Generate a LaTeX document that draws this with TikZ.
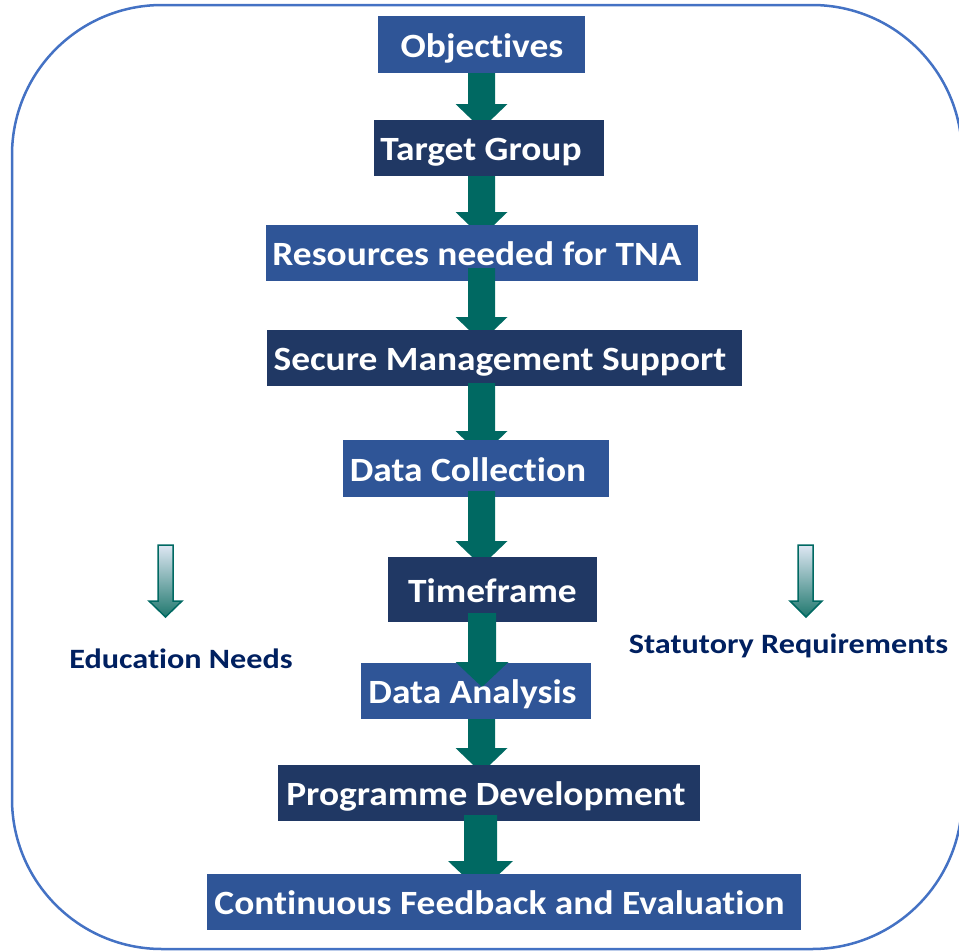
\documentclass[tikz,border=0pt]{standalone}
\usepackage{graphicx}
\usepackage{fontspec}
\setmainfont{Carlito}[RawFeature=-liga]
\usetikzlibrary{calc}
\definecolor{boxlight}{RGB}{47,85,151}
\definecolor{boxdark}{RGB}{32,56,100}
\definecolor{arrowcol}{RGB}{0,105,98}
\definecolor{framecol}{RGB}{68,114,196}
\definecolor{labelcol}{RGB}{0,32,96}
\definecolor{shadetop}{RGB}{222,231,243}
\definecolor{shadebot}{RGB}{32,120,110}
\newcommand\bx[1]{\scalebox{1.1}[1]{#1}}
\newcommand\lx[1]{\scalebox{1.15}[1]{#1}}
% #1 start coord, #2 tip coord, #3 half shaft, #4 half head, #5 head length
\newcommand\blockarrow[5]{%
  \fill[blockfill] ($(#1)+(-#3,0)$) -- ($(#2)+(-#3,-#5)$) -- ($(#2)+(-#4,-#5)$) -- (#2)
    -- ($(#2)+(#4,-#5)$) -- ($(#2)+(#3,-#5)$) -- ($(#1)+(#3,0)$) -- cycle;}
\begin{document}
\begin{tikzpicture}[x=1pt,y=-1pt,
  lightbox/.style={fill=boxlight, draw=none, inner sep=0pt},
  darkbox/.style={fill=boxdark, draw=none, inner sep=0pt},
  boxtext/.style={text=white, font=\fontsize{34}{40}\selectfont\bfseries, anchor=base, inner sep=0pt},
  sidelabel/.style={text=labelcol, font=\fontsize{28}{32}\selectfont\bfseries, anchor=base, inner sep=0pt},
  blockfill/.style={fill=arrowcol},
  smallarrow/.style={draw=arrowcol, line width=1.5pt, top color=shadetop, bottom color=shadebot},
]
\useasboundingbox (0,0) rectangle (959,951);
\draw[framecol, line width=2.5pt, rounded corners=150pt] (12,5) rectangle (962,949);

% arrow coordinates
\coordinate (a1s) at (481.5,73);  \coordinate (a1e) at (481.5,129);
\coordinate (a2s) at (481.5,176); \coordinate (a2e) at (481.5,237);
\coordinate (a3s) at (481.5,268); \coordinate (a3e) at (481.5,342);
\coordinate (a4s) at (481.5,383); \coordinate (a4e) at (481.5,456);
\coordinate (a5s) at (481.5,491); \coordinate (a5e) at (481.5,566);
\coordinate (a6s) at (482,613);   \coordinate (a6e) at (482,687);
\coordinate (a7s) at (481.5,719); \coordinate (a7e) at (481.5,773);
\coordinate (a8s) at (480.5,815); \coordinate (a8e) at (480.5,892);

\node[lightbox, minimum width=207pt, minimum height=57pt] (b1) at (481.5,44.5) {};
\blockarrow{a1s}{a1e}{13.5}{26}{25}
\node[darkbox, minimum width=230pt, minimum height=56pt] (b2) at (489,148) {};
\blockarrow{a2s}{a2e}{13.5}{26}{25}
\node[lightbox, minimum width=432pt, minimum height=56pt] (b3) at (482,253) {};
\blockarrow{a3s}{a3e}{13.5}{26}{25}
\node[darkbox, minimum width=475pt, minimum height=56pt] (b4) at (504.5,358) {};
\blockarrow{a4s}{a4e}{13.5}{26}{25}
\node[lightbox, minimum width=266pt, minimum height=57pt] (b5) at (476,468.5) {};
\blockarrow{a5s}{a5e}{13.5}{26}{25}
\node[darkbox, minimum width=209pt, minimum height=65pt] (b6) at (492.5,589.5) {};
\node[lightbox, minimum width=230pt, minimum height=56pt] (b7) at (476,691) {};
\blockarrow{a6s}{a6e}{14}{26.5}{25}
\blockarrow{a7s}{a7e}{13.5}{26}{25}
\node[darkbox, minimum width=422pt, minimum height=56pt] (b8) at (489,793) {};
\blockarrow{a8s}{a8e}{16.5}{32.5}{31}
\node[lightbox, minimum width=594pt, minimum height=56pt] (b9) at (504,902) {};

% texts
\node[boxtext] (t1) at (482,57) {\bx{Objectives}};
\node[boxtext] (t2) at (481,160.5) {\bx{Target Group}};
\node[boxtext] (t3) at (477,265.5) {\bx{Resources needed for TNA}};
\node[boxtext] (t4) at (500,370.5) {\bx{Secure Management Support}};
\node[boxtext] (t5) at (468,481) {\bx{Data Collection}};
\node[boxtext] (t6) at (492.5,602) {\bx{Timeframe}};
\node[boxtext] (t7) at (472.5,703) {\bx{Data Analysis}};
\node[boxtext] (t8) at (486,805.5) {\bx{Programme Development}};
\node[boxtext] (t9) at (499.5,914.5) {\bx{Continuous Feedback and Evaluation}};

% side arrows
\shade[smallarrow] (158,545) -- (158,601) -- (149,601) -- (165.5,617) -- (182,601) -- (173,601) -- (173,545) -- cycle;
\shade[smallarrow] (798,545) -- (798,601) -- (790,601) -- (806,617) -- (822,601) -- (813,601) -- (813,545) -- cycle;

\node[sidelabel] (l1) at (181,668) {\lx{Education Needs}};
\node[sidelabel] (l2) at (788.5,653) {\lx{Statutory Requirements}};
\end{tikzpicture}
\end{document}
